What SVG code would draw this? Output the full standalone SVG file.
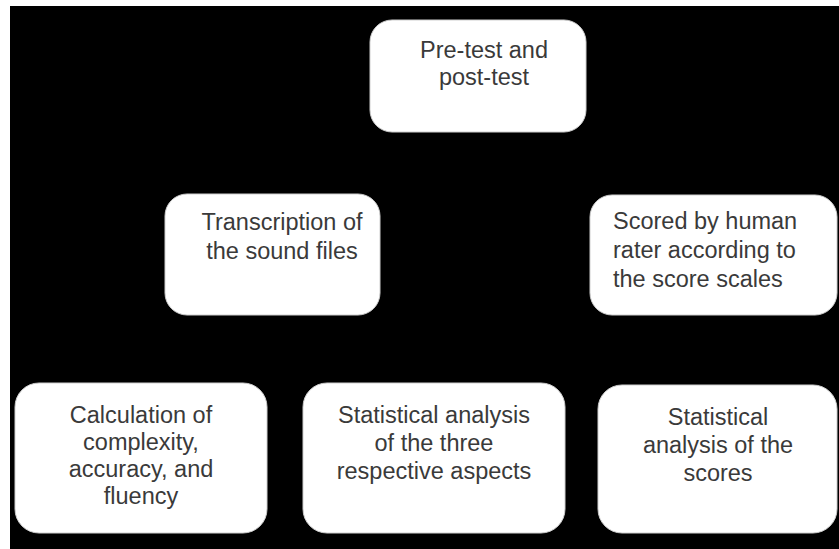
<svg xmlns="http://www.w3.org/2000/svg" width="839" height="549" viewBox="0 0 839 549">
<style>
.box{fill:#ffffff;stroke:#cfcfcf;stroke-width:1}
.t{font-family:"Liberation Sans",Arial,sans-serif;font-size:23.5px;fill:#3a3a3a}
.c{text-anchor:middle}
</style>
<rect x="0" y="0" width="839" height="549" fill="#ffffff"/>
<rect x="10" y="6" width="829" height="543" fill="#000000"/>
<g id="connectors"></g>
<g id="n-pretest">
<rect class="box" x="370" y="20" width="216" height="112" rx="22"/>
<text class="t c" x="484" y="58">Pre-test and</text>
<text class="t c" x="484" y="85">post-test</text>
</g>
<g id="n-transcription">
<rect class="box" x="165" y="194" width="215" height="121" rx="22"/>
<text class="t c" x="282" y="230">Transcription of</text>
<text class="t c" x="282" y="259">the sound files</text>
</g>
<g id="n-scored">
<rect class="box" x="590" y="195" width="247" height="120" rx="22"/>
<text class="t" x="613" y="229">Scored by human</text>
<text class="t" x="613" y="258">rater according to</text>
<text class="t" x="613" y="287">the score scales</text>
</g>
<g id="n-calculation">
<rect class="box" x="15" y="383" width="252" height="150" rx="24"/>
<text class="t c" x="141" y="423">Calculation of</text>
<text class="t c" x="141" y="450">complexity,</text>
<text class="t c" x="141" y="477">accuracy, and</text>
<text class="t c" x="141" y="504">fluency</text>
</g>
<g id="n-stat-three">
<rect class="box" x="303" y="383" width="262" height="150" rx="24"/>
<text class="t c" x="434" y="423">Statistical analysis</text>
<text class="t c" x="434" y="451">of the three</text>
<text class="t c" x="434" y="479">respective aspects</text>
</g>
<g id="n-stat-scores">
<rect class="box" x="598" y="385" width="239" height="148" rx="24"/>
<text class="t c" x="718" y="425">Statistical</text>
<text class="t c" x="718" y="453">analysis of the</text>
<text class="t c" x="718" y="481">scores</text>
</g>
</svg>
